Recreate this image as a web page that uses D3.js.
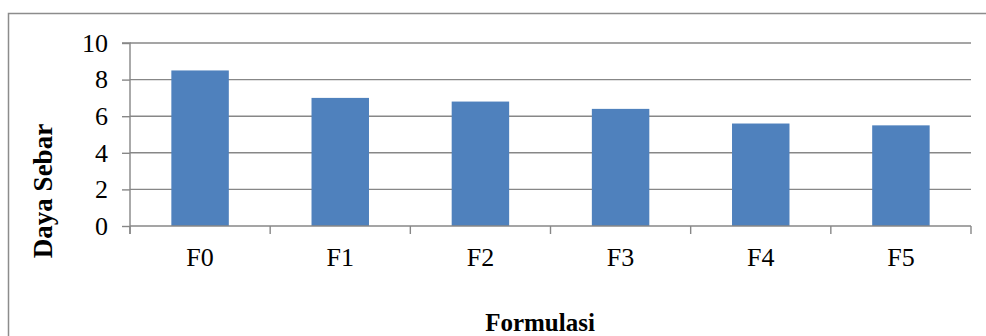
<!DOCTYPE html>
<html>
<head>
<meta charset="utf-8">
<script src="https://cdn.jsdelivr.net/npm/d3@7"></script>
<style>
  html, body { margin: 0; padding: 0; background: #fff; }
  svg { display: block; }
</style>
</head>
<body>
<svg id="chart" width="986" height="336"></svg>
<script>
// Spreadability per formulation
const categories = ["F0", "F1", "F2", "F3", "F4", "F5"];
const dayaSebar = [8.5, 7.0, 6.8, 6.4, 5.6, 5.5];
const yTicks = [0, 2, 4, 6, 8, 10];

const svg = d3.select("#chart");
const W = 986, H = 336;
const m = { left: 130, right: 15, top: 43, bottom: 110 };
const gridColor = "#878787";
const font = "Liberation Serif, Times New Roman, serif";

// Chart-area frame (runs off the right and bottom edges)
svg.append("rect")
  .attr("x", 8.5).attr("y", 13.5)
  .attr("width", W + 20).attr("height", H + 20)
  .attr("fill", "none").attr("stroke", "#8c8c8c").attr("stroke-width", 1.5);

const x = d3.scaleBand().domain(categories).range([m.left, W - m.right]).paddingInner(0).paddingOuter(0);
const y = d3.scaleLinear().domain([0, 10]).range([H - m.bottom, m.top]);

// Horizontal gridlines
svg.append("g").selectAll("line").data(yTicks.filter(d => d > 0)).join("line")
  .attr("x1", m.left).attr("x2", W - m.right)
  .attr("y1", d => y(d)).attr("y2", d => y(d))
  .attr("stroke", gridColor).attr("stroke-width", 1.4);

// Bars
const bw = x.bandwidth() * 0.41;
svg.append("g").selectAll("rect").data(categories).join("rect")
  .attr("x", (c) => x(c) + (x.bandwidth() - bw) / 2)
  .attr("width", bw)
  .attr("y", (c, i) => y(dayaSebar[i]))
  .attr("height", (c, i) => y(0) - y(dayaSebar[i]))
  .attr("fill", "#4f81bd");

// Y axis
const yAxis = d3.axisLeft(y).tickValues(yTicks).tickSize(8).tickPadding(14).tickFormat(d3.format("d"));
const gy = svg.append("g").attr("transform", `translate(${m.left},0)`).call(yAxis)
  .attr("font-family", font).attr("font-size", 26);
gy.select(".domain").attr("stroke", gridColor).attr("stroke-width", 1.4).attr("d", `M-8,${y(10)}H0V${y(0) + 8}`);
gy.selectAll(".tick line").attr("stroke", gridColor).attr("stroke-width", 1.4);
gy.selectAll(".tick text").attr("fill", "#000");

// X axis with ticks at category boundaries
const gx = svg.append("g").attr("transform", `translate(0,${y(0)})`);
gx.append("line").attr("x1", m.left).attr("x2", W - m.right)
  .attr("stroke", gridColor).attr("stroke-width", 1.4);
const bounds = categories.map(c => x(c)).concat([x.range()[1]]);
gx.selectAll("line.tk").data(bounds).join("line").attr("class", "tk")
  .attr("x1", d => d).attr("x2", d => d).attr("y1", 0).attr("y2", 8)
  .attr("stroke", gridColor).attr("stroke-width", 1.4);
gx.selectAll("text").data(categories).join("text")
  .attr("x", c => x(c) + x.bandwidth() / 2).attr("y", 40)
  .attr("text-anchor", "middle")
  .attr("font-family", font).attr("font-size", 26).attr("fill", "#000")
  .text(c => c);

// Axis titles
svg.append("text")
  .attr("x", 540).attr("y", 331)
  .attr("text-anchor", "middle")
  .attr("font-family", font).attr("font-weight", "bold").attr("font-size", 25)
  .text("Formulasi");

svg.append("text")
  .attr("transform", "translate(52,191) rotate(-90)")
  .attr("text-anchor", "middle")
  .attr("font-family", font).attr("font-weight", "bold").attr("font-size", 27)
  .text("Daya Sebar");
</script>
</body>
</html>
